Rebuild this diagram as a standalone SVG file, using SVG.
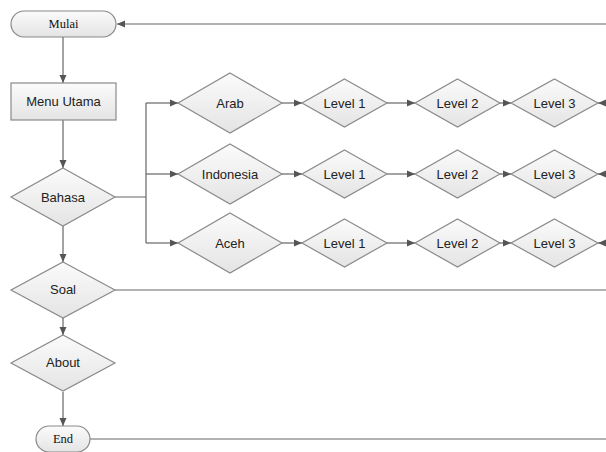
<svg xmlns="http://www.w3.org/2000/svg" width="606" height="452" viewBox="0 0 606 452">
<defs>
<linearGradient id="g" x1="0" y1="0" x2="0" y2="1">
<stop offset="0" stop-color="#fbfbfb"/>
<stop offset="1" stop-color="#e4e4e4"/>
</linearGradient>
<marker id="ah" markerUnits="userSpaceOnUse" markerWidth="8" markerHeight="8" refX="8" refY="4" orient="auto">
<path d="M0,0.5 L8,4 L0,7.5 z" fill="#555"/>
</marker>
</defs>
<style>
.s{fill:url(#g);stroke:#8a8a8a;stroke-width:1.2}
.t{font-family:"Liberation Sans",Arial,sans-serif;font-size:13px;fill:#222;text-anchor:middle;dominant-baseline:central}
.tr{font-family:"Liberation Serif","Times New Roman",serif;font-size:12.5px;fill:#111;text-anchor:middle;dominant-baseline:central}
.c{fill:none;stroke:#666;stroke-width:1.2}
.a{marker-end:url(#ah)}
</style>
<g id="connectors">
<path class="c a" d="M606,24 H117"/>
<path class="c a" d="M63,37 V83"/>
<path class="c a" d="M63,120 V168"/>
<path class="c" d="M115,197 H146 M146,103 V243"/>
<path class="c a" d="M146,103 H178"/>
<path class="c a" d="M146,174 H178"/>
<path class="c a" d="M146,243 H178"/>
<path class="c a" d="M282,103 H302"/>
<path class="c a" d="M387,103 H415"/>
<path class="c a" d="M500,103 H511"/>
<path class="c a" d="M606,103 H598"/>
<path class="c a" d="M282,174 H302"/>
<path class="c a" d="M387,174 H415"/>
<path class="c a" d="M500,174 H511"/>
<path class="c a" d="M606,174 H598"/>
<path class="c a" d="M282,243 H302"/>
<path class="c a" d="M387,243 H415"/>
<path class="c a" d="M500,243 H511"/>
<path class="c a" d="M606,243 H598"/>
<path class="c a" d="M63,226 V262"/>
<path class="c" d="M115,290 H606"/>
<path class="c a" d="M63,318 V335"/>
<path class="c a" d="M63,392 V426"/>
<path class="c" d="M90,439 H606"/>
</g>
<g id="mulai"><rect class="s" x="11" y="11" width="105" height="26" rx="13"/><text class="tr" x="63.5" y="24">Mulai</text></g>
<g id="menu-utama"><rect class="s" x="11" y="83" width="105" height="37"/><text class="t" x="63.5" y="101.5">Menu Utama</text></g>
<g id="bahasa"><polygon class="s" points="63,168 115,197 63,226 11,197"/><text class="t" x="63" y="197">Bahasa</text></g>
<g id="arab"><polygon class="s" points="230,73 282,103 230,133 178,103"/><text class="t" x="230" y="103">Arab</text></g>
<g id="indonesia"><polygon class="s" points="230,144 282,174 230,204 178,174"/><text class="t" x="230" y="174">Indonesia</text></g>
<g id="aceh"><polygon class="s" points="230,213 282,243 230,273 178,243"/><text class="t" x="230" y="243">Aceh</text></g>
<g id="arab-l1"><polygon class="s" points="344.5,79 387,103 344.5,127 302,103"/><text class="t" x="344.5" y="103">Level 1</text></g>
<g id="arab-l2"><polygon class="s" points="457.5,79 500,103 457.5,127 415,103"/><text class="t" x="457.5" y="103">Level 2</text></g>
<g id="arab-l3"><polygon class="s" points="554.5,79 598,103 554.5,127 511,103"/><text class="t" x="554.5" y="103">Level 3</text></g>
<g id="indo-l1"><polygon class="s" points="344.5,150 387,174 344.5,198 302,174"/><text class="t" x="344.5" y="174">Level 1</text></g>
<g id="indo-l2"><polygon class="s" points="457.5,150 500,174 457.5,198 415,174"/><text class="t" x="457.5" y="174">Level 2</text></g>
<g id="indo-l3"><polygon class="s" points="554.5,150 598,174 554.5,198 511,174"/><text class="t" x="554.5" y="174">Level 3</text></g>
<g id="aceh-l1"><polygon class="s" points="344.5,219 387,243 344.5,267 302,243"/><text class="t" x="344.5" y="243">Level 1</text></g>
<g id="aceh-l2"><polygon class="s" points="457.5,219 500,243 457.5,267 415,243"/><text class="t" x="457.5" y="243">Level 2</text></g>
<g id="aceh-l3"><polygon class="s" points="554.5,219 598,243 554.5,267 511,243"/><text class="t" x="554.5" y="243">Level 3</text></g>
<g id="soal"><polygon class="s" points="63,262 115,290 63,318 11,290"/><text class="t" x="63" y="289">Soal</text></g>
<g id="about"><polygon class="s" points="63,335 115,363 63,391 11,363"/><text class="t" x="63" y="362">About</text></g>
<g id="end"><rect class="s" x="36" y="426" width="54" height="26" rx="13"/><text class="tr" x="63" y="439">End</text></g>
</svg>
